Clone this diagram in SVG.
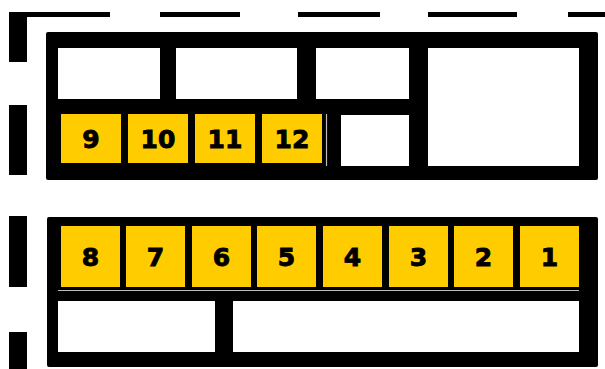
<svg xmlns="http://www.w3.org/2000/svg" width="605" height="369" viewBox="0 0 605 369">
<style>
.blk{fill:#000}
.wht{fill:#fff}
.pin{fill:#FFCC00}
.num{font-family:"DejaVu Sans","Liberation Sans",sans-serif;font-weight:bold;font-size:25px;fill:#000;stroke:#000;stroke-width:0.9;text-anchor:middle}
.hair{stroke:#bbb;stroke-width:1.2}
</style>
<rect x="0" y="0" width="605" height="369" fill="#fff"/>
<g id="frame">
<rect class="blk" x="9" y="12" width="101" height="5"/>
<rect class="blk" x="160" y="12" width="80" height="5"/>
<rect class="blk" x="298" y="12" width="82" height="5"/>
<rect class="blk" x="428" y="12" width="89" height="5"/>
<rect class="blk" x="568" y="12" width="37" height="5"/>
<rect class="blk" x="9" y="12" width="18" height="50"/>
<rect class="blk" x="9" y="105" width="18" height="70"/>
<rect class="blk" x="9" y="216" width="18" height="71"/>
<rect class="blk" x="9" y="332" width="18" height="37"/>
</g>
<g id="upper-block">
<rect class="blk" x="46" y="32" width="552" height="148" rx="2"/>
<rect class="wht" x="58" y="48" width="102" height="51"/>
<rect class="wht" x="176" y="48" width="121" height="51"/>
<rect class="wht" x="316" y="48" width="93" height="51"/>
<rect class="wht" x="428" y="48" width="151" height="118"/>
<rect class="wht" x="341" y="115" width="68" height="51"/>
<line class="hair" x1="326.5" y1="114" x2="326.5" y2="166"/>
</g>
<g id="pin-9"><rect class="pin" x="61" y="114" width="60" height="49"/><text class="num" x="91" y="148">9</text></g>
<g id="pin-10"><rect class="pin" x="128" y="114" width="60" height="49"/><text class="num" x="158" y="148">10</text></g>
<g id="pin-11"><rect class="pin" x="195" y="114" width="60" height="49"/><text class="num" x="225" y="148">11</text></g>
<g id="pin-12"><rect class="pin" x="262" y="114" width="60" height="49"/><text class="num" x="292" y="148">12</text></g>
<g id="lower-block">
<rect class="blk" x="47" y="217" width="551" height="150" rx="2"/>
<line class="hair" x1="58" y1="290.5" x2="579" y2="290.5"/>
<rect class="wht" x="58" y="301" width="157" height="51"/>
<rect class="wht" x="233" y="301" width="346" height="51"/>
</g>
<g id="pin-8"><rect class="pin" x="61" y="226" width="59" height="61"/><text class="num" x="90.5" y="266">8</text></g>
<g id="pin-7"><rect class="pin" x="126" y="226" width="59" height="61"/><text class="num" x="155.5" y="266">7</text></g>
<g id="pin-6"><rect class="pin" x="192" y="226" width="59" height="61"/><text class="num" x="221.5" y="266">6</text></g>
<g id="pin-5"><rect class="pin" x="257" y="226" width="59" height="61"/><text class="num" x="286.5" y="266">5</text></g>
<g id="pin-4"><rect class="pin" x="323" y="226" width="59" height="61"/><text class="num" x="352.5" y="266">4</text></g>
<g id="pin-3"><rect class="pin" x="389" y="226" width="59" height="61"/><text class="num" x="418.5" y="266">3</text></g>
<g id="pin-2"><rect class="pin" x="454" y="226" width="59" height="61"/><text class="num" x="483.5" y="266">2</text></g>
<g id="pin-1"><rect class="pin" x="520" y="226" width="59" height="61"/><text class="num" x="549.5" y="266">1</text></g>
<g id="connectors"></g>
</svg>
